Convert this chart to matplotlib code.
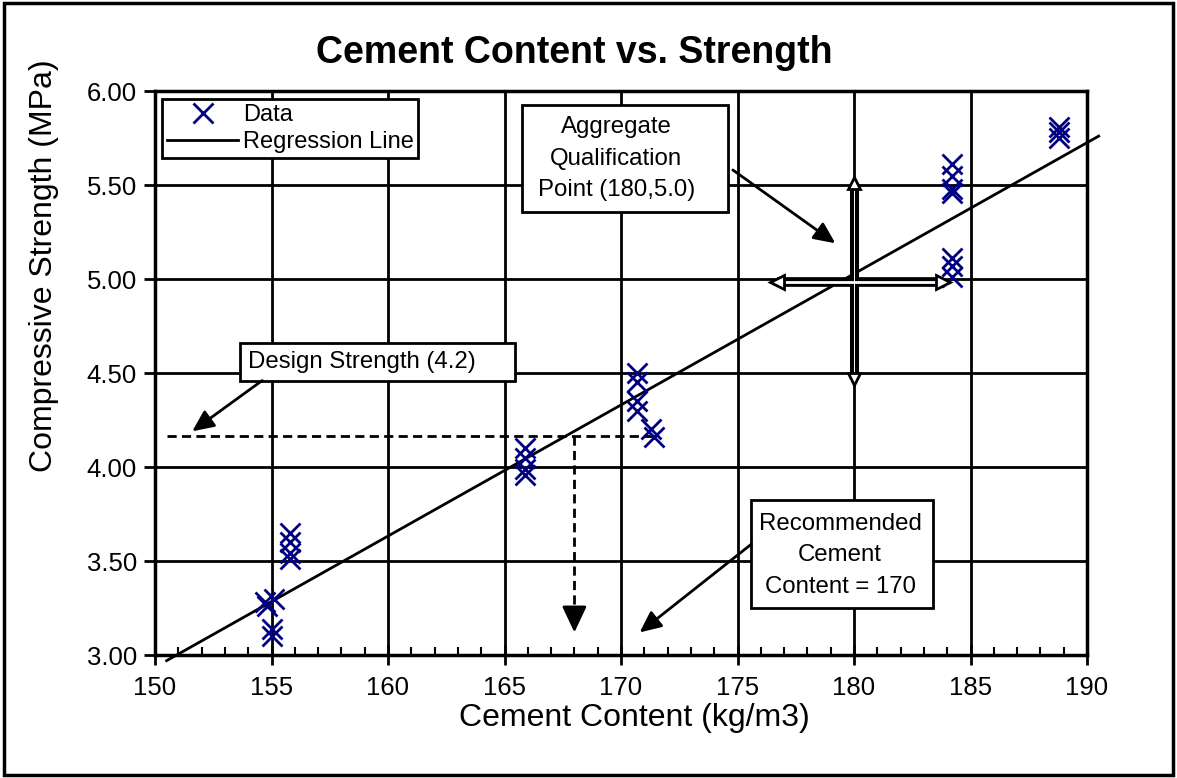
import numpy as np
import matplotlib
matplotlib.use("Agg")
import matplotlib.pyplot as plt
from matplotlib.patches import Rectangle
from matplotlib.ticker import MultipleLocator, FormatStrFormatter

plt.rcParams['font.family'] = ['Liberation Sans', 'DejaVu Sans']

# data
cement = [154.7, 154.8, 155.1, 155.0, 155.0,
          155.8, 155.8, 155.8, 155.8,
          165.9, 165.9, 165.9, 165.9,
          170.7, 170.7, 170.7, 170.7,
          171.3, 171.4,
          184.2, 184.2, 184.2, 184.2, 184.2, 184.2, 184.2,
          188.8, 188.8, 188.8]
strength = [3.28, 3.26, 3.30, 3.14, 3.10,
            3.65, 3.60, 3.54, 3.51,
            4.10, 4.05, 3.99, 3.96,
            4.50, 4.45, 4.35, 4.30,
            4.20, 4.16,
            5.61, 5.55, 5.48, 5.46, 5.11, 5.07, 5.01,
            5.81, 5.78, 5.75]
reg_x = [150.5, 190.5]
reg_y = [2.97, 5.76]

design_strength = 4.165
recommended = 168.0
qual_x, qual_y = 180, 4.985
qual_xrange = [176.7, 183.8]
qual_yrange = [4.47, 5.51]

fig = plt.figure(figsize=(11.77, 7.78), dpi=100)
ax = fig.add_axes([155/1177, 1-655/778, (1087-155)/1177, (655-91)/778])

fig.patches.append(Rectangle((0.003, 0.004), 0.994, 0.992, transform=fig.transFigure,
                             fill=False, edgecolor='black', lw=2.5))

ax.set_xlim(150, 190)
ax.set_ylim(3.0, 6.0)
ax.xaxis.set_major_locator(MultipleLocator(5))
ax.xaxis.set_minor_locator(MultipleLocator(1))
ax.yaxis.set_major_locator(MultipleLocator(0.5))
ax.yaxis.set_major_formatter(FormatStrFormatter('%.2f'))
ax.grid(True, which='major', color='black', lw=2)
ax.set_axisbelow(True)
for s in ax.spines.values():
    s.set_linewidth(2.5)
ax.tick_params(axis='x', which='major', direction='inout', length=14, width=2, labelsize=18.5, pad=8)
ax.tick_params(axis='x', which='minor', direction='in', length=6, width=1.5)
ax.tick_params(axis='y', which='major', direction='out', length=8, width=2, labelsize=18.5, pad=5)

ax.plot(cement, strength, linestyle='none', marker='x', color='#000080',
        markersize=15, markeredgewidth=2, label='Data', zorder=4)
ax.plot(reg_x, reg_y, color='black', lw=2, label='Regression Line', clip_on=False, zorder=3)

# design strength dashed guides
dash = (0, (3.3, 1.9))
ax.plot([150.5, 171.5], [design_strength, design_strength], color='black', lw=2,
        linestyle=dash, zorder=3)
ax.plot([recommended, recommended], [design_strength, 3.22], color='black', lw=2,
        linestyle=dash, zorder=3)
ax.annotate('', xy=(recommended, 3.12), xytext=(recommended, 3.23),
            arrowprops=dict(arrowstyle='-|>,head_length=1.6,head_width=0.75', color='black',
                            lw=2, shrinkA=0, shrinkB=0), zorder=3)

# qualification cross
ax.plot(qual_xrange, [qual_y] * 2, color='black', lw=7, solid_capstyle='butt', zorder=5)
ax.plot(qual_xrange, [qual_y] * 2, color='white', lw=2, solid_capstyle='butt', zorder=6)
ax.plot([qual_x] * 2, qual_yrange, color='black', lw=6.5, solid_capstyle='butt', zorder=5)
ax.plot([qual_x] * 2, qual_yrange, color='white', lw=0.7, solid_capstyle='butt', zorder=6)
ax.plot([qual_xrange[0]], [qual_y], marker='<', markersize=10, mfc='white', mec='black', mew=2, zorder=7)
ax.plot([qual_xrange[1]], [qual_y], marker='>', markersize=10, mfc='white', mec='black', mew=2, zorder=7)
ax.plot([qual_x], [qual_yrange[0]], marker='v', markersize=8, mfc='white', mec='black', mew=2, zorder=7)
ax.plot([qual_x], [qual_yrange[1]], marker='^', markersize=8, mfc='white', mec='black', mew=2, zorder=7)


def note(x0, x1, y0, y1, tx, ty, txt, ha='center'):
    ax.add_patch(Rectangle((x0, y0), x1 - x0, y1 - y0, fc='white', ec='black', lw=2, zorder=8))
    ax.text(tx, ty, txt, fontsize=17.3, ha=ha, va='center', linespacing=1.55, zorder=9)


arrow = dict(arrowstyle='-|>,head_length=1.3,head_width=0.6', color='black', lw=2, shrinkA=0, shrinkB=0)

note(153.65, 165.45, 4.46, 4.66, 154.0, 4.56, 'Design Strength (4.2)', ha='left')
ax.annotate('', xy=(151.6, 4.19), xytext=(154.6, 4.46), arrowprops=arrow, zorder=8)

note(165.75, 174.6, 5.356, 5.926, 169.8, 5.64, 'Aggregate\nQualification\nPoint (180,5.0)')
ax.annotate('', xy=(179.2, 5.19), xytext=(174.8, 5.58), arrowprops=arrow, zorder=8)

note(175.6, 183.4, 3.25, 3.824, 179.4, 3.53, 'Recommended\nCement\nContent = 170')
ax.annotate('', xy=(170.8, 3.12), xytext=(175.6, 3.59), arrowprops=arrow, zorder=8)

leg = ax.legend(loc='upper left', bbox_to_anchor=(0.008, 0.985), fontsize=17, frameon=True,
                fancybox=False, edgecolor='black', framealpha=1, borderpad=0.2,
                handlelength=3.0, handletextpad=0.2, labelspacing=0.2, borderaxespad=0)
leg.get_frame().set_linewidth(2)

ax.set_title('Cement Content vs. Strength', fontsize=27, fontweight='bold', pad=20, x=0.45)
ax.set_xlabel('Cement Content (kg/m3)', fontsize=23)
ax.xaxis.set_label_coords(0.514, -0.085)
ax.set_ylabel('Compressive Strength (MPa)', fontsize=23)
ax.yaxis.set_label_coords(-0.103, 0.69)

fig.savefig('out.png', dpi=100)
